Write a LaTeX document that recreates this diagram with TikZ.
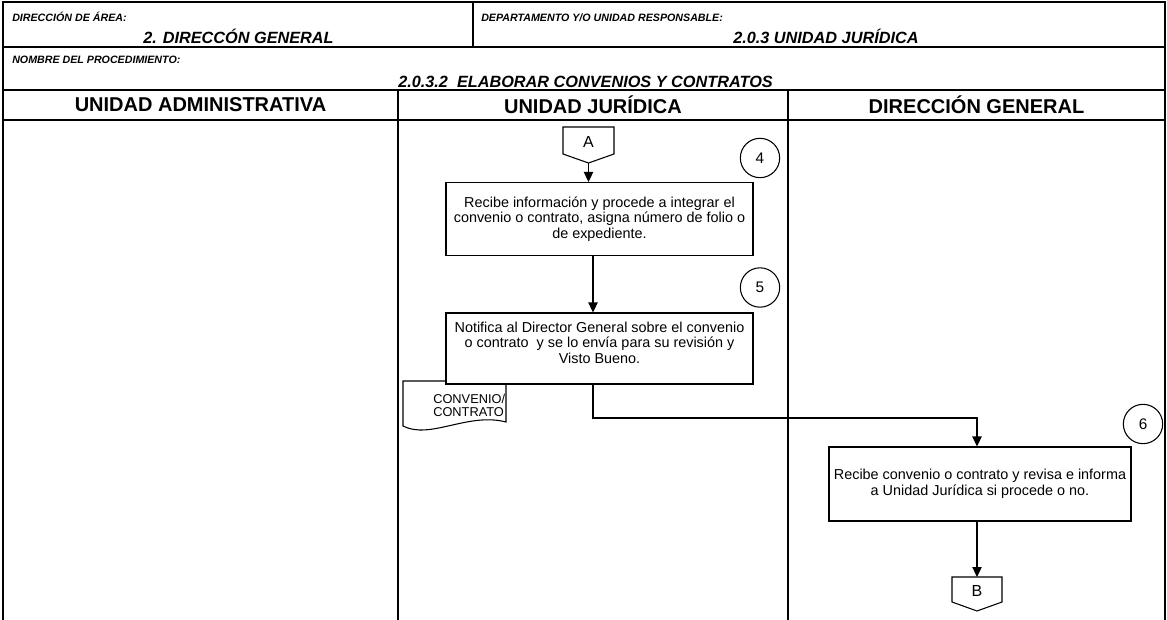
\documentclass[tikz,border=0pt]{standalone}
\usepackage{fontspec}
\setmainfont{Liberation Sans}
\usetikzlibrary{arrows.meta}
\begin{document}
\begin{tikzpicture}[x=0.75pt,y=-0.75pt,
  frame/.style={line width=1.1pt},
  box/.style={draw, line width=0.8pt, fill=white, align=center, font=\fontsize{10.8}{11.8}\selectfont, inner sep=0pt},
  num/.style={draw, circle, line width=0.8pt, minimum size=29.5pt, inner sep=0pt, font=\fontsize{11.5}{13}\selectfont},
  conn/.style={line width=0.8pt, fill=white},
  arr/.style={line width=0.9pt, -{Triangle[length=7.5pt,width=7pt]}},
  lbl/.style={font=\fontsize{8}{9}\selectfont\bfseries\itshape, anchor=base west, inner sep=0pt},
  big/.style={font=\fontsize{12.2}{14}\selectfont\bfseries\itshape, anchor=base west, inner sep=0pt},
  lane/.style={font=\fontsize{15}{17}\selectfont\bfseries, inner sep=0pt}
]
\useasboundingbox (0,0) rectangle (1167,620);
% frame
\draw[frame] (3,620) -- (3,2) -- (1165,2) -- (1165,620);
\draw[frame] (3,47) -- (1165,47);
\draw[frame] (3,90) -- (1165,90);
\draw[frame] (3,120) -- (1165,120);
\draw[frame] (473,2) -- (473,47);
\draw[frame] (398,90) -- (398,620);
\draw[frame] (788,90) -- (788,620);
% header texts
\node[lbl] (t1) at (12,22) {DIRECCIÓN DE ÁREA:};
\node[big] (t2) at (143,44) {2. DIRECCÓN GENERAL};
\node[lbl] (t3) at (481,22) {DEPARTAMENTO Y/O UNIDAD RESPONSABLE:};
\node[big] (t4) at (733,44) {2.0.3 UNIDAD JURÍDICA};
\node[lbl] (t5) at (12,64) {NOMBRE DEL PROCEDIMIENTO:};
\node[big] (t6) at (398,88) {2.0.3.2\ \ ELABORAR CONVENIOS Y CONTRATOS};
\node[lane] (l1) at (200.5,105) {UNIDAD ADMINISTRATIVA};
\node[lane] (l2) at (593,105) {UNIDAD JURÍDICA};
\node[lane] (l3) at (976.5,105) {DIRECCIÓN GENERAL};
% connector A
\draw[conn] (563,127) -- (614,127) -- (614,154) -- (588.5,163) -- (563,154) -- cycle;
\node[font=\fontsize{12}{14}\selectfont, inner sep=0pt] (A) at (588.5,142) {A};
\coordinate (Atip) at (588.5,163);
% document
\draw[conn] (403,381) -- (403,426) .. controls (430,440) and (468,412) .. (506,422) -- (506,381) -- cycle;
\node[align=left, anchor=north west, font=\fontsize{9.6}{10}\selectfont, inner sep=0pt] (doc) at (433,394) {CONVENIO/\\CONTRATO};
% boxes
\node[box, minimum width=230.25pt, minimum height=54.75pt] (b4) at (599.5,219) {Recibe información y procede a integrar el\\convenio o contrato, asigna número de folio o\\de expediente.};
\node[box, minimum width=230.25pt, minimum height=53.25pt] (b5) at (599.5,348.5) {Notifica al Director General sobre el convenio\\o contrato\ \ y se lo envía para su revisión y\\Visto Bueno.\\[-3pt]\mbox{}};
\node[box, minimum width=226.5pt, minimum height=55.5pt] (b6) at (980,484) {Recibe convenio o contrato y revisa e informa\\a Unidad Jurídica si procede o no.};
% circles
\node[num] (c4) at (760,158) {4};
\node[num] (c5) at (760,287.5) {5};
\node[num] (c6) at (1143,424) {6};
% connector B
\draw[conn] (952,577) -- (1002,577) -- (1002,602) -- (977,611) -- (952,602) -- cycle;
\node[font=\fontsize{12}{14}\selectfont, inner sep=0pt] (B) at (977,591) {B};
\coordinate (Btop) at (977,577);
% arrows
\coordinate (x45) at (593,0);
\coordinate (x6) at (977,418);
\draw[arr] (Atip) -- (Atip |- b4.north);
\draw[arr] (b4.south -| x45) -- (b5.north -| x45);
\draw[arr] (b5.south -| x45) |- (x6) -- (x6 |- b6.north);
\draw[arr] (b6.south -| x6) -- (Btop);
\end{tikzpicture}
\end{document}
